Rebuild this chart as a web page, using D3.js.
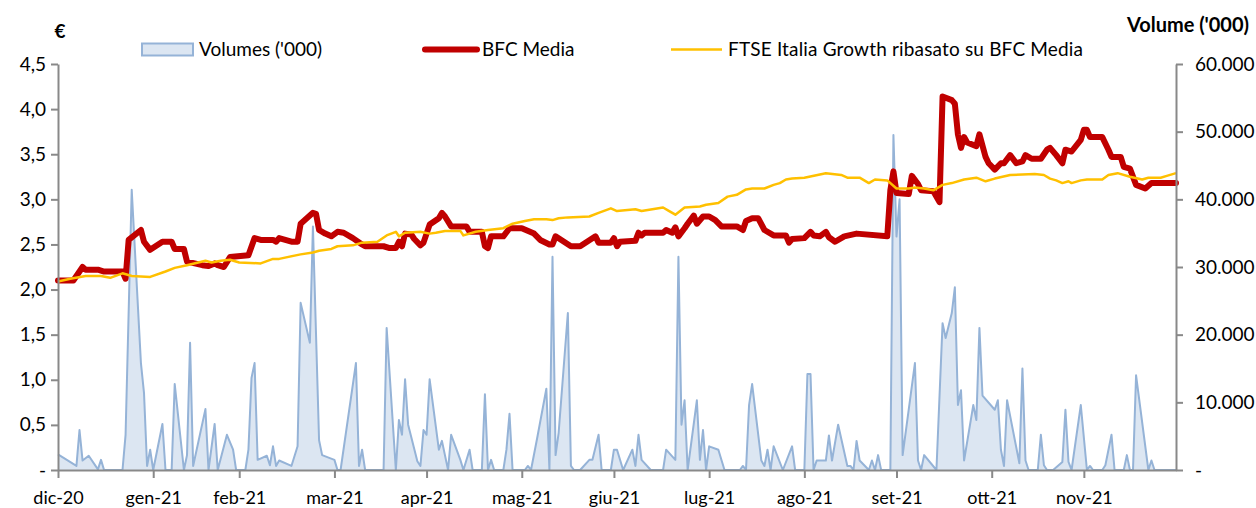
<!DOCTYPE html>
<html>
<head>
<meta charset="utf-8">
<script src="https://cdn.jsdelivr.net/npm/d3@7"></script>
<style>
  body { margin: 0; background: #fff; }
  svg text { font-family: Lato, "Open Sans", sans-serif; fill: #000; }
</style>
</head>
<body>
<script>
// x values are days counted from 31/12/2020
const monthLabels = ["dic-20", "gen-21", "feb-21", "mar-21", "apr-21", "mag-21", "giu-21", "lug-21", "ago-21", "set-21", "ott-21", "nov-21"];
const monthDays = [0, 31, 59, 90, 120, 151, 181, 212, 243, 273, 304, 334];
const lastDay = 364;

const leftTicks = [0, 0.5, 1, 1.5, 2, 2.5, 3, 3.5, 4, 4.5];
const rightTicks = [0, 10000, 20000, 30000, 40000, 50000, 60000];

const seriesNames = ["Volumes ('000)", "BFC Media", "FTSE Italia Growth ribasato su BFC Media"];

// Volumes ('000) [day, value]
const volumes = [[0,2300],[6,600],[7,5900],[8,1400],[10,2100],[13,100],[14,1500],[15,0],[21,0],[22,5200],[24,41400],[27,15800],[28,11400],[29,600],[30,3000],[31,0],[34,6800],[35,0],[37,0],[38,12700],[41,0],[42,2200],[43,18800],[44,600],[48,9000],[49,0],[51,6800],[52,0],[55,5200],[57,3000],[58,0],
  [61,0],[62,3000],[63,13600],[64,15800],[65,1500],[68,2100],[69,700],[70,3500],[71,600],[72,1400],[76,600],[78,3500],[79,24700],[82,18800],[83,36000],[85,4400],[86,2200],[90,1500],[91,0],
  [92,0],[97,15800],[98,600],[99,3000],[100,0],[106,0],[107,21000],[110,0],[111,7400],[112,5200],[113,13400],[114,6700],[117,1300],[118,600],[119,5900],[120,5200],[121,13400],
  [124,3000],[125,4300],[127,0],[128,5200],[131,1500],[132,0],[134,3000],[135,0],[138,0],[139,11200],[140,0],[141,1500],[142,0],[145,0],[146,3000],[147,8300],[148,0],
  [152,0],[153,600],[154,0],[156,4700],[159,12000],[160,0],[161,31500],[162,2200],[163,5500],[166,23200],[167,600],[168,0],[170,0],[173,1500],[174,1500],[176,5200],[177,0],[180,0],
  [181,3000],[182,3000],[184,0],[187,3000],[188,600],[189,5200],[190,1500],[193,0],[197,0],[198,3000],[201,1500],[202,31500],[203,6700],[204,10300],[205,0],[208,10300],[209,1500],[210,5900],[211,0],
  [212,3500],[215,3000],[217,0],[222,0],[223,600],[224,0],[225,9600],[226,12700],[229,1400],[230,600],[231,3000],[232,0],[233,3500],[236,0],[239,3500],[240,0],
  [243,0],[244,14200],[245,14200],[246,0],[247,1400],[250,1400],[251,5100],[252,1400],[254,6700],[257,600],[258,600],[259,0],[260,4300],[261,1400],[264,0],[265,1400],[266,0],[267,2200],[268,0],[271,0],
  [272,49500],[273,34500],[274,40000],[275,2200],[279,15800],[280,1400],[281,0],[282,2200],[286,0],[288,21700],[289,19500],[291,23200],[292,27000],[293,9600],[294,11800],[295,1400],[298,9600],[299,7400],[300,21000],[301,11000],
  [305,8900],[306,10300],[307,3000],[308,600],[309,10300],[313,1000],[314,15000],[315,1400],[316,0],[319,0],[320,5200],[321,700],[322,0],[324,0],[327,1200],[328,8900],[329,1200],[330,0],[333,9600],
  [335,0],[336,600],[337,0],[340,0],[341,700],[343,5200],[344,0],[347,0],[348,2200],[349,0],[350,0],[351,14000],[355,0],[356,1400],[357,0],[364,0]];

// BFC Media price (€) [day, value]
const bfcMedia = [[0,2.10],[5,2.10],[8,2.25],[9,2.22],[13,2.22],[15,2.20],[21,2.20],[22,2.12],[23,2.55],[27,2.66],[28,2.53],[30,2.44],[34,2.53],[37,2.53],[38,2.45],[41,2.45],[42,2.31],[47,2.27],[49,2.26],[51,2.29],[52,2.27],[54,2.25],[56,2.36],
  [62,2.38],[64,2.57],[66,2.55],[70,2.55],[71,2.53],[72,2.57],[76,2.53],[78,2.53],[79,2.73],[81,2.79],[83,2.85],[84,2.84],[85,2.66],[87,2.62],[89,2.59],[91,2.64],[93,2.63],[96,2.57],[99,2.50],[100,2.48],
  [106,2.48],[108,2.46],[110,2.46],[111,2.53],[112,2.48],[113,2.62],[115,2.61],[116,2.56],[118,2.49],[119,2.52],[120,2.62],[121,2.72],[124,2.79],[125,2.85],[126,2.81],[128,2.70],[133,2.70],[134,2.64],[138,2.64],
  [139,2.48],[140,2.46],[141,2.59],[145,2.59],[147,2.68],[151,2.68],[155,2.62],[157,2.55],[160,2.50],[161,2.50],[162,2.59],[167,2.48],[170,2.48],[175,2.59],[176,2.52],[180,2.52],[181,2.57],[182,2.48],[183,2.53],
  [188,2.54],[189,2.63],[190,2.60],[191,2.63],[197,2.63],[198,2.66],[200,2.63],[201,2.69],[202,2.59],[204,2.68],[205,2.73],[207,2.82],[208,2.73],[210,2.81],[212,2.81],[214,2.77],[216,2.70],[221,2.70],[223,2.66],
  [224,2.76],[226,2.79],[228,2.79],[230,2.66],[233,2.60],[237,2.60],[238,2.52],[239,2.56],[243,2.57],[245,2.64],[246,2.60],[248,2.59],[250,2.64],[251,2.58],[253,2.53],[256,2.59],[260,2.62],[270,2.59],
  [271,3.10],[272,3.31],[273,3.07],[277,3.06],[278,3.26],[280,3.17],[281,3.10],[285,3.09],[287,2.97],[288,4.14],[291,4.10],[292,4.06],[293,3.72],[294,3.57],[295,3.69],[296,3.63],[299,3.59],[300,3.72],
  [302,3.47],[303,3.40],[305,3.33],[307,3.40],[308,3.40],[310,3.49],[312,3.40],[314,3.42],[315,3.49],[317,3.45],[320,3.45],[322,3.55],[323,3.57],[325,3.49],[327,3.40],[328,3.55],[330,3.53],[333,3.66],
  [334,3.77],[335,3.77],[336,3.69],[340,3.69],[342,3.55],[343,3.47],[346,3.47],[347,3.36],[349,3.34],[351,3.16],[354,3.12],[356,3.18],[364,3.18]];

// FTSE Italia Growth rebased on BFC Media [day, value]
const ftseGrowth = [[0,2.09],[4,2.12],[9,2.15],[14,2.15],[17,2.13],[21,2.18],[24,2.15],[30,2.14],[35,2.20],[38,2.24],[42,2.27],[48,2.32],[50,2.30],[53,2.32],[56,2.33],[59,2.30],[66,2.29],[70,2.34],[72,2.34],
  [79,2.39],[83,2.41],[85,2.43],[89,2.45],[91,2.48],[96,2.49],[99,2.52],[104,2.53],[107,2.60],[110,2.64],[111,2.59],[113,2.63],[118,2.64],[121,2.62],[123,2.63],[126,2.65],[131,2.65],[132,2.60],[136,2.64],
  [140,2.66],[145,2.68],[148,2.73],[152,2.76],[155,2.78],[159,2.78],[161,2.77],[163,2.79],[166,2.80],[173,2.81],[176,2.85],[180,2.90],[182,2.87],[188,2.89],[190,2.87],[197,2.91],[199,2.87],[201,2.83],
  [204,2.91],[209,2.92],[211,2.94],[215,2.96],[218,3.03],[221,3.05],[224,3.11],[226,3.12],[230,3.12],[233,3.16],[235,3.18],[237,3.22],[239,3.23],[243,3.24],[250,3.29],[255,3.27],[257,3.24],[261,3.24],
  [264,3.18],[266,3.22],[270,3.21],[273,3.12],[277,3.12],[279,3.13],[282,3.12],[285,3.10],[288,3.16],[291,3.18],[295,3.22],[299,3.24],[302,3.20],[305,3.23],[310,3.27],[318,3.28],[321,3.27],[323,3.23],
  [325,3.21],[327,3.18],[329,3.20],[330,3.18],[333,3.21],[335,3.22],[340,3.22],[342,3.27],[345,3.29],[349,3.25],[353,3.22],[355,3.24],[359,3.24],[361,3.26],[364,3.29]];

const it = d3.formatLocale({ decimal: ",", thousands: ".", grouping: [3], currency: ["€", ""] });
const fmtLeft = it.format(".1f");
const fmtRight = it.format(",.0f");

const width = 1256, height = 508;
const plot = { left: 58, right: 1176, top: 64, bottom: 470 };
const axisColor = "#898989";

const start = new Date(2020, 11, 31);
const toDate = (d) => d3.timeDay.offset(start, d);

const svg = d3.select("body").append("svg").attr("width", width).attr("height", height);

//Scales
const x = d3.scaleTime().domain([start, toDate(lastDay)]).range([plot.left, plot.right]);
const yLeft = d3.scaleLinear().domain([0, 4.5]).range([plot.bottom, plot.top]);
const yRight = d3.scaleLinear().domain([0, 60000]).range([plot.bottom, plot.top]);

//Volume area (right axis)
const area = d3.area().x(d => x(toDate(d[0]))).y0(yRight(0)).y1(d => yRight(d[1]));
const volLine = d3.line().x(d => x(toDate(d[0]))).y(d => yRight(d[1]));
svg.append("path").datum(volumes).attr("d", area).attr("fill", "#dce6f2");
svg.append("path").datum(volumes).attr("d", volLine).attr("fill", "none")
  .attr("stroke", "#95b3d7").attr("stroke-width", 2).attr("stroke-linejoin", "round");

//Price lines (left axis)
const priceLine = d3.line().x(d => x(toDate(d[0]))).y(d => yLeft(d[1]));
svg.append("path").datum(bfcMedia).attr("d", priceLine).attr("fill", "none")
  .attr("stroke", "#c00000").attr("stroke-width", 6).attr("stroke-linejoin", "round").attr("stroke-linecap", "round");
svg.append("path").datum(ftseGrowth).attr("d", priceLine).attr("fill", "none")
  .attr("stroke", "#ffc000").attr("stroke-width", 2.5).attr("stroke-linejoin", "round");

//Axes
const styleAxis = (g, size) => {
  g.select(".domain").attr("stroke", axisColor).attr("stroke-width", 2);
  g.selectAll(".tick line").attr("stroke", axisColor).attr("stroke-width", 2);
  g.selectAll(".tick text").style("font-size", size + "px").attr("fill", "#000");
};

const xAxis = d3.axisBottom(x).tickValues(monthDays.map(toDate))
  .tickFormat((d, i) => monthLabels[i]).tickSize(8).tickSizeOuter(0).tickPadding(13);
svg.append("g").attr("transform", `translate(0, ${plot.bottom})`).call(xAxis).call(g => styleAxis(g, 18));

const leftAxis = d3.axisLeft(yLeft).tickValues(leftTicks)
  .tickFormat(d => d === 0 ? "-" : fmtLeft(d)).tickSize(7).tickSizeOuter(0).tickPadding(5);
svg.append("g").attr("transform", `translate(${plot.left}, 0)`).call(leftAxis).call(g => styleAxis(g, 19));

const rightAxis = d3.axisRight(yRight).tickValues(rightTicks)
  .tickFormat(d => d === 0 ? "-" : fmtRight(d)).tickSize(7).tickSizeOuter(0).tickPadding(12);
svg.append("g").attr("transform", `translate(${plot.right}, 0)`).call(rightAxis).call(g => styleAxis(g, 19));

//Axis titles
svg.append("text").attr("x", 60).attr("y", 38).attr("text-anchor", "middle")
  .style("font-size", "19px").style("font-weight", "bold").text("€");
svg.append("text").attr("x", 1127).attr("y", 32)
  .style("font-size", "20px").style("font-weight", "bold")
  .attr("textLength", 122).attr("lengthAdjust", "spacing").text("Volume ('000)");

//Legend
const legend = svg.append("g").attr("class", "legend");
legend.append("rect").attr("x", 142).attr("y", 43.5).attr("width", 51).attr("height", 12)
  .attr("fill", "#dce6f2").attr("stroke", "#95b3d7").attr("stroke-width", 2);
legend.append("text").attr("x", 199).attr("y", 56).style("font-size", "19px").text(seriesNames[0]);
legend.append("line").attr("x1", 425).attr("x2", 477).attr("y1", 49.5).attr("y2", 49.5)
  .attr("stroke", "#c00000").attr("stroke-width", 6).attr("stroke-linecap", "round");
legend.append("text").attr("x", 482).attr("y", 56).style("font-size", "19px").text(seriesNames[1]);
legend.append("line").attr("x1", 671).attr("x2", 722).attr("y1", 49.5).attr("y2", 49.5)
  .attr("stroke", "#ffc000").attr("stroke-width", 2.5);
legend.append("text").attr("x", 728).attr("y", 56).style("font-size", "19px")
  .attr("textLength", 355).attr("lengthAdjust", "spacing").text(seriesNames[2]);
</script>
</body>
</html>
